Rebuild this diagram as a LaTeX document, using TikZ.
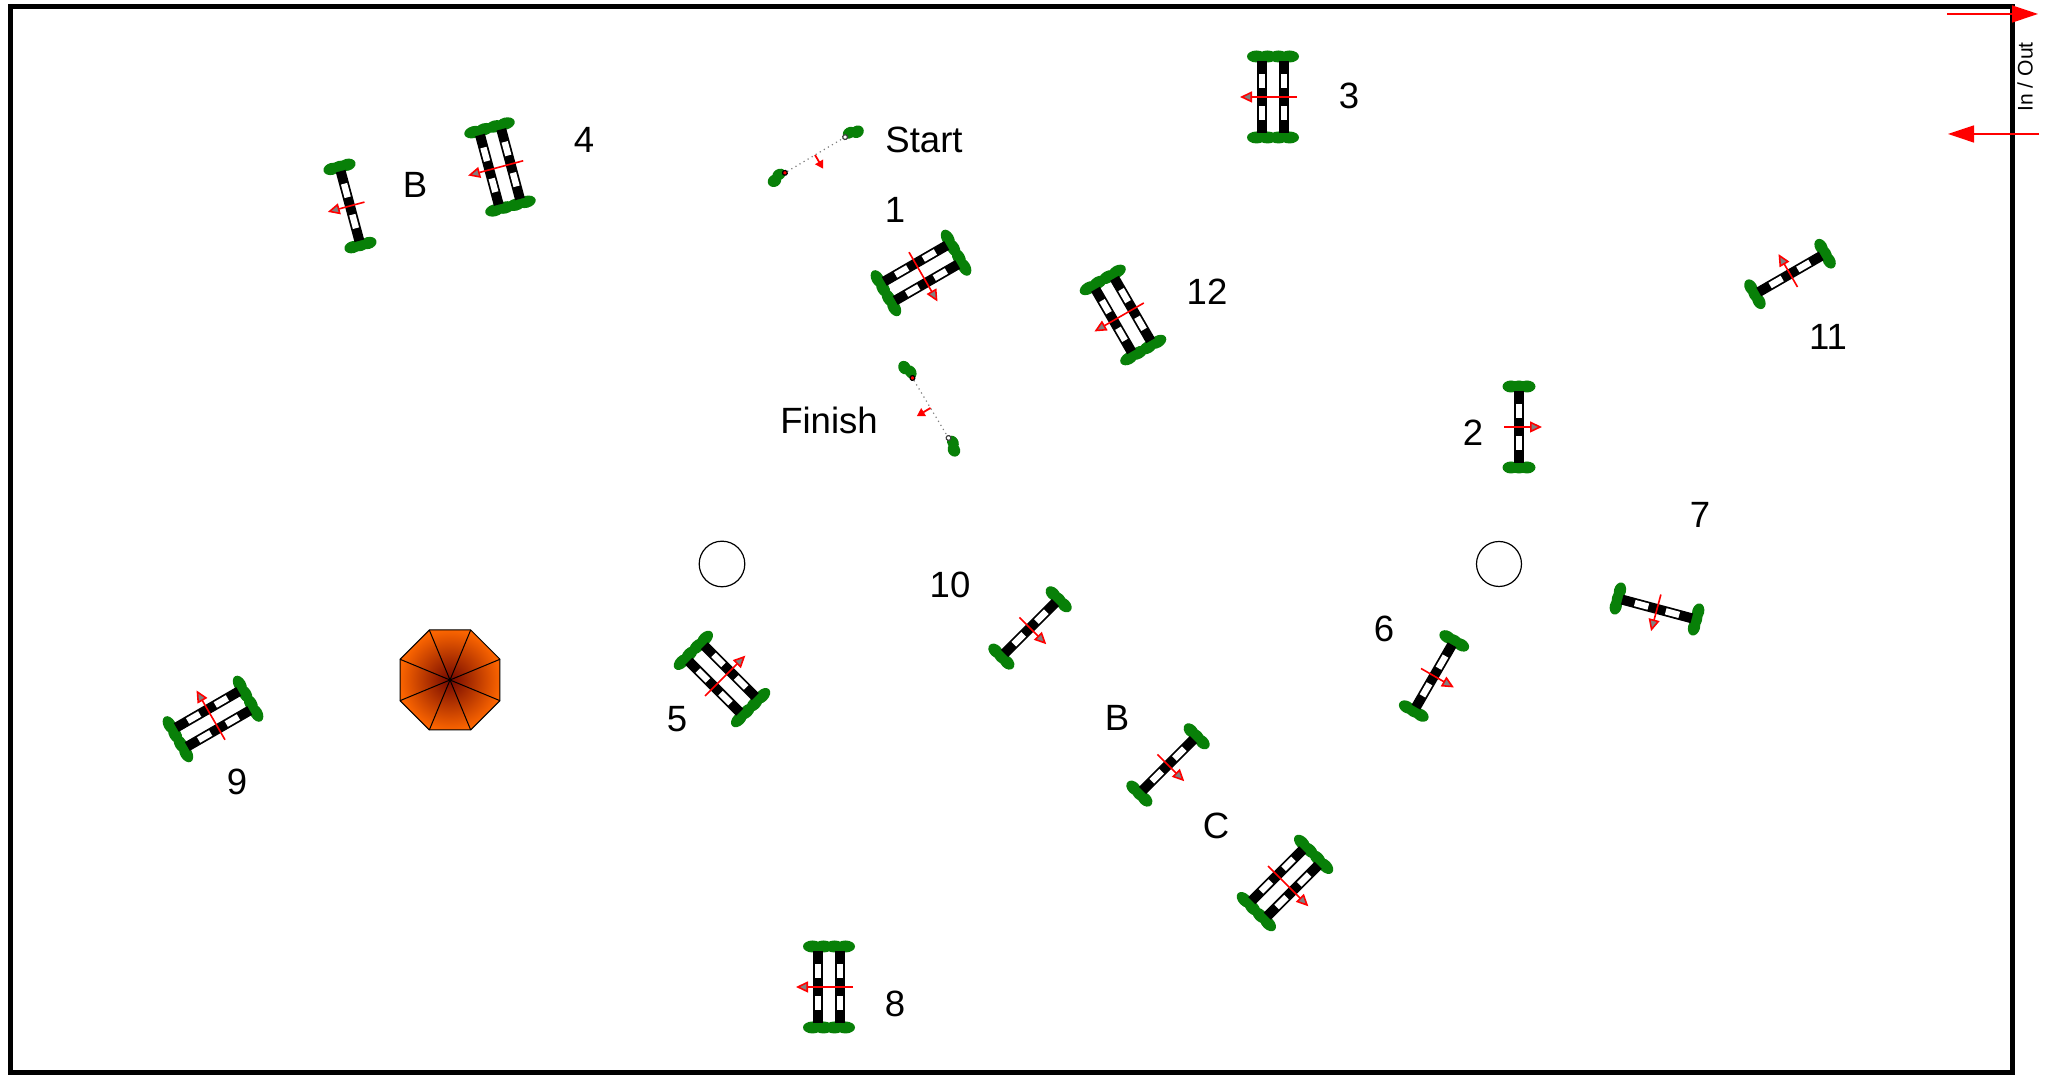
\documentclass[tikz,border=0pt]{standalone}
\usepackage{fontspec}
\setmainfont{Liberation Sans}
\usetikzlibrary{arrows.meta,positioning}
\definecolor{bushgreen}{RGB}{8,128,8}
\definecolor{umbcore}{RGB}{115,8,0}
\definecolor{umbrim}{RGB}{250,100,0}
\newcommand{\jumprail}[1]{%
  \fill[black] (#1-0.05,-0.36) rectangle (#1+0.05,0.36);
  \fill[white] (#1-0.032,0.09) rectangle (#1+0.032,0.23);
  \fill[white] (#1-0.032,-0.23) rectangle (#1+0.032,-0.09);
}
\tikzset{
  lbl/.style={inner sep=0pt, font=\fontsize{10.4}{12}\selectfont},
  bush/.style={fill=bushgreen},
  travel/.style={red, line width=0.016cm, -{Triangle[length=0.12cm,width=0.11cm,fill=gray]}},
  gatetravel/.style={red, line width=0.018cm, -{Triangle[length=0.08cm,width=0.09cm]}},
  ringarrow/.style={red, line width=0.016cm, -{Triangle[length=0.26cm,width=0.17cm]}},
  pics/singlejump/.style={code={
    \foreach \y in {-0.405,0.405}{
      \foreach \x in {-0.08,0,0.08}{
        \fill[bush] (\x,\y) ellipse [x radius=0.085, y radius=0.06];
      }
    }
    \jumprail{0}
    \draw[travel] (0.15,0) -- (-0.23,0);
  }},
  pics/doublejump/.style={code={
    \foreach \y in {-0.405,0.405}{
      \foreach \x in {-0.165,-0.055,0.055,0.165}{
        \fill[bush] (\x,\y) ellipse [x radius=0.095, y radius=0.06];
      }
    }
    \jumprail{-0.11}
    \jumprail{0.11}
    \draw[travel] (0.24,0) -- (-0.33,0);
  }},
  pics/timegate/.style={code={
    \draw[gray, line width=0.012cm, densely dotted] (0,-0.35) -- (0,0.35);
    \foreach \y in {-1,1}{
      \fill[bush] (0.015,\y*0.41) ellipse [x radius=0.055, y radius=0.07];
      \fill[bush] (-0.015,\y*0.48) ellipse [x radius=0.06, y radius=0.07];
    }
    \draw[black, fill=red, line width=0.012cm] (0,0.35) circle (0.024);
    \draw[darkgray, fill=white, line width=0.012cm] (0,-0.35) circle (0.024);
    \draw[gatetravel] (0,0) -- (-0.16,0);
  }},
}

\begin{document}
\begin{tikzpicture}
  \useasboundingbox (0,0) rectangle (20.46,10.75);

  %% ── Ring ────────────────────────────────────────────────────────
  \draw[line width=0.05cm] (0.107,0.02) rectangle (20.12,10.68);

  %% ── In / Out ────────────────────────────────────────────────────
  \coordinate (inA) at (19.47,10.61);
  \coordinate (inB) at (20.38,10.61);
  \coordinate (outA) at (20.39,9.41);
  \coordinate (outB) at (19.48,9.41);
  \draw[ringarrow] (inA) -- (inB);
  \draw[ringarrow] (outA) -- (outB);
  \node[inner sep=0pt, rotate=90, font=\fontsize{6}{7}\selectfont] (inout) at (20.25,9.98) {In / Out};

  %% ── Double jumps ────────────────────────────────────────────────
  \foreach \x/\y/\r in {%
    9.21/8.02/120,
    12.73/9.78/0,
    5.00/9.08/15,
    11.23/7.60/30,
    7.22/3.96/-135,
    8.29/0.88/0,
    2.13/3.56/-60,
    12.85/1.92/135%
  }{
    \pic[rotate=\r] at (\x,\y) {doublejump};
  }

  %% ── Single jumps ────────────────────────────────────────────────
  \foreach \x/\y/\r in {%
    3.50/8.69/15,
    15.19/6.48/180,
    14.34/3.99/150,
    16.57/4.66/75,
    10.30/4.47/135,
    17.90/8.01/-60,
    11.68/3.10/135%
  }{
    \pic[rotate=\r] at (\x,\y) {singlejump};
  }

  %% ── Start and finish ────────────────────────────────────────────
  \pic[rotate=120.7] at (8.15,9.20) {timegate};
  \pic[rotate=31] at (9.305,6.67) {timegate};

  %% ── Umbrella ────────────────────────────────────────────────────
  \begin{scope}[shift={(4.50,3.95)}]
    \shade[inner color=umbcore, outer color=umbrim, draw=black, line width=0.01cm]
      (22.5:0.541) -- (67.5:0.541) -- (112.5:0.541) -- (157.5:0.541)
      -- (202.5:0.541) -- (247.5:0.541) -- (292.5:0.541) -- (337.5:0.541) -- cycle;
    \foreach \a in {22.5,67.5,...,337.5}{
      \draw[line width=0.01cm] (0,0) -- (\a:0.541);
    }
  \end{scope}

  %% ── Tunnels ─────────────────────────────────────────────────────
  \draw[line width=0.012cm] (7.22,5.11) circle (0.228);
  \draw[line width=0.012cm] (14.99,5.11) circle (0.225);

  %% ── Labels ──────────────────────────────────────────────────────
  \node[lbl] (start) at (9.24,9.35) {Start};
  \node[lbl] (finish) at (8.29,6.55) {Finish};
  \node[lbl] (n1) at (8.95,8.65) {1};
  \node[lbl] (n2) at (14.73,6.42) {2};
  \node[lbl] (n3) at (13.49,9.79) {3};
  \node[lbl] (n4) at (5.84,9.35) {4};
  \node[lbl] (n5) at (6.77,3.56) {5};
  \node[lbl] (n6) at (13.84,4.46) {6};
  \node[lbl] (n7) at (17.00,5.60) {7};
  \node[lbl] (n8) at (8.95,0.71) {8};
  \node[lbl] (n9) at (2.37,2.93) {9};
  \node[lbl] (n10) at (9.50,4.90) {10};
  \node[lbl] (n11) at (18.28,7.38) {11};
  \node[lbl] (n12) at (12.07,7.83) {12};
  \node[lbl] (ba) at (4.15,8.90) {B};
  \node[lbl] (bb) at (11.17,3.57) {B};
  \node[lbl] (cc) at (12.16,2.49) {C};

\end{tikzpicture}
\end{document}
